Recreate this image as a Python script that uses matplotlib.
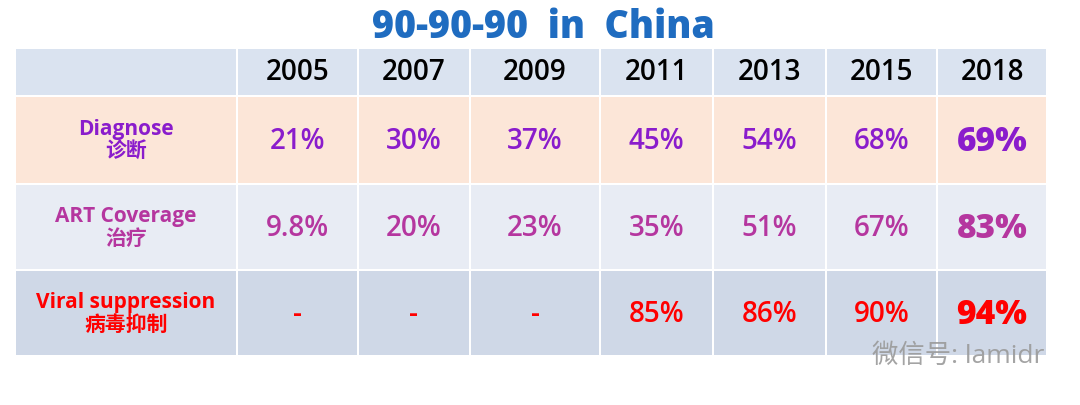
import matplotlib.pyplot as plt
from matplotlib.patches import Rectangle

years = ['2005', '2007', '2009', '2011', '2013', '2015', '2018']
row_labels = ['Diagnose\n诊断', 'ART Coverage\n治疗', 'Viral suppression\n病毒抑制']
diagnose = ['21%', '30%', '37%', '45%', '54%', '68%', '69%']
art = ['9.8%', '20%', '23%', '35%', '51%', '67%', '83%']
viral = ['-', '-', '-', '85%', '86%', '90%', '94%']

rows = [diagnose, art, viral]
row_bg = ['#fce6d8', '#e8ecf4', '#cfd8e7']
row_fg = ['#8a1ccc', '#b5369f', '#ff0000']
head_bg = '#dae3f0'

plt.rcParams['font.family'] = ['Open Sans', 'Noto Sans CJK SC']

fig = plt.figure(figsize=(10.8, 4.06), dpi=100)
ax = fig.add_axes([0, 0, 1, 1])
ax.set_xlim(0, 1080)
ax.set_ylim(406, 0)
ax.axis('off')

# column edges (pixels)
col_x = [16, 238, 359, 471, 601, 714, 827, 938, 1048]
row_y = [50, 98, 186, 272, 358]
gap = 2

ax.text(543, 28, '90-90-90  in  China', ha='center', va='center',
        fontsize=27, fontweight='heavy', color='#1f6cc0')

for r in range(4):
    for c in range(8):
        x0, x1 = col_x[c], col_x[c + 1] - gap
        y0, y1 = row_y[r], row_y[r + 1] - gap
        bg = head_bg if r == 0 else row_bg[r - 1]
        ax.add_patch(Rectangle((x0, y0), x1 - x0, y1 - y0, facecolor=bg, edgecolor='none'))
        cx, cy = (x0 + x1) / 2, (y0 + y1) / 2
        if r == 0:
            if c > 0:
                ax.text(cx, cy, years[c - 1], ha='center', va='center',
                        fontsize=20, fontweight='semibold', color='black')
        elif c == 0:
            ax.text(cx, cy, row_labels[r - 1], ha='center', va='center',
                    fontsize=15, fontweight='bold', color=row_fg[r - 1], linespacing=1.15)
        else:
            big = c == 7
            ax.text(cx, cy + 1, rows[r - 1][c - 1], ha='center', va='center',
                    fontsize=24 if big else 20, fontweight='heavy' if big else 'semibold',
                    color=row_fg[r - 1])

ax.text(958, 356, '微信号: lamidr', ha='center', va='center',
        fontsize=19, color='#9a9a9a', alpha=0.9)

fig.savefig('out.png', dpi=100)
